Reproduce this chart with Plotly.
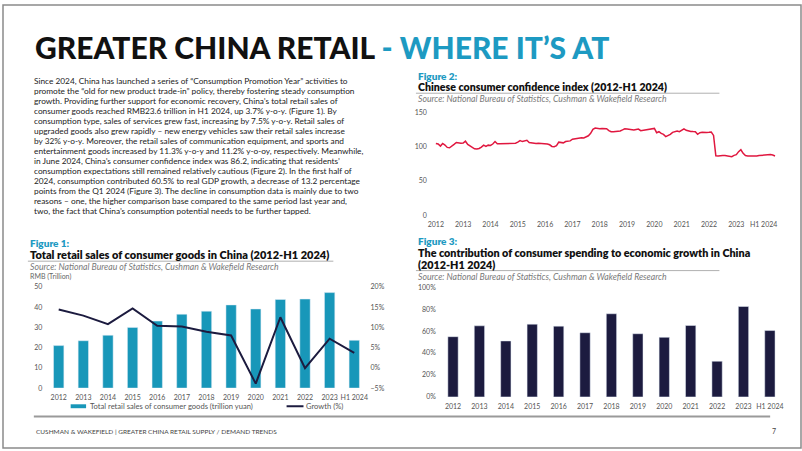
import plotly.graph_objects as go

W, H = 802, 451
def fx(p): return p / W
def fy(p): return 1 - p / H

# ---------------- data ----------------
years = ['2012', '2013', '2014', '2015', '2016', '2017', '2018', '2019',
         '2020', '2021', '2022', '2023', 'H1 2024']
retail_sales = [21.0, 23.4, 26.1, 30.0, 33.1, 36.5, 38.0, 41.1, 39.1, 43.8, 44.0, 47.2, 23.6]
retail_growth = [14.4, 12.9, 10.8, 14.7, 10.4, 10.2, 8.9, 8.0, -3.9, 12.5, -0.1, 7.2, 3.7]
consumption_contribution = [54.9, 64.8, 51.0, 66.3, 64.5, 58.5, 75.8, 57.6, 54.3, 65.1, 32.5, 82.4, 60.5]

# monthly consumer confidence index, Jan 2012 - Jun 2024
cci_2012 = [104.3, 103.5, 100.5, 104.3, 102.0, 98.6, 98.1, 100.0, 103.0, 105.7, 104.8, 104.5]
cci_2013 = [104.8, 107.6, 103.0, 101.0, 98.0, 96.5, 96.2, 97.0, 99.0, 101.9, 100.0, 101.9]
cci_2014 = [101.4, 103.5, 107.1, 104.0, 103.8, 103.8, 104.3, 103.8, 104.0, 104.8, 104.5, 104.8]
cci_2015 = [106.2, 108.6, 107.1, 107.5, 109.0, 105.7, 105.0, 104.8, 104.3, 104.5, 104.3, 104.3]
cci_2016 = [104.3, 103.5, 102.4, 100.0, 99.5, 101.0, 106.2, 105.5, 105.2, 107.1, 107.5, 108.1]
cci_2017 = [110.5, 111.0, 111.4, 112.9, 112.8, 112.4, 113.8, 115.5, 119.0, 124.8, 126.7, 125.9]
cci_2018 = [125.7, 126.2, 126.0, 125.7, 123.0, 121.4, 121.2, 121.4, 121.6, 122.4, 124.0, 125.7]
cci_2019 = [125.2, 124.8, 124.2, 123.8, 124.5, 125.2, 122.9, 123.5, 123.8, 124.2, 124.8, 125.5]
cci_2020 = [126.2, 120.0, 121.4, 119.0, 117.6, 114.3, 115.5, 117.5, 120.5, 121.5, 122.4, 121.4]
cci_2021 = [123.0, 125.7, 123.5, 122.4, 121.9, 121.6, 121.4, 117.6, 120.0, 120.5, 120.0, 120.3]
cci_2022 = [120.5, 121.0, 116.0, 86.5, 86.2, 87.1, 87.0, 86.7, 86.3, 86.2, 85.2, 87.0]
cci_2023 = [88.0, 92.4, 95.2, 90.0, 86.7, 86.2, 86.0, 85.7, 86.0, 86.2, 86.7, 87.1]
cci_2024 = [87.6, 88.0, 88.6, 88.1, 87.5, 86.2]
cci = (cci_2012 + cci_2013 + cci_2014 + cci_2015 + cci_2016 + cci_2017 + cci_2018 +
       cci_2019 + cci_2020 + cci_2021 + cci_2022 + cci_2023 + cci_2024)
cci_month_index = list(range(len(cci)))
cci_tick_index = [12 * k for k in range(len(years))]

legend_names = ['Total retail sales of consumer goods (trillion yuan)', 'Growth (%)']

paragraph = [
    "Since 2024, China has launched a series of “Consumption Promotion Year” activities to",
    "promote the “old for new product trade-in” policy, thereby fostering steady consumption",
    "growth. Providing further support for economic recovery, China’s total retail sales of",
    "consumer goods reached RMB23.6 trillion in H1 2024, up 3.7% y-o-y. (Figure 1). By",
    "consumption type, sales of services grew fast, increasing by 7.5% y-o-y. Retail sales of",
    "upgraded goods also grew rapidly – new energy vehicles saw their retail sales increase",
    "by 32% y-o-y. Moreover, the retail sales of communication equipment, and sports and",
    "entertainment goods increased by 11.3% y-o-y and 11.2% y-o-oy, respectively. Meanwhile,",
    "in June 2024, China’s consumer confidence index was 86.2, indicating that residents’",
    "consumption expectations still remained relatively cautious (Figure 2). In the first half of",
    "2024, consumption contributed 60.5% to real GDP growth, a decrease of 13.2 percentage",
    "points from the Q1 2024 (Figure 3). The decline in consumption data is mainly due to two",
    "reasons – one, the higher comparison base compared to the same period last year and,",
    "two, the fact that China’s consumption potential needs to be further tapped.",
]

# ---------------- style ----------------
TEAL = '#1897b9'
TEAL_TXT = '#1d9ac2'
NAVY = '#1c1b3f'
RED = '#e0173f'
FONT = 'Lato'
TICK = dict(family=FONT, size=7, color='#555555')

fig = go.Figure()

fig.add_trace(go.Bar(x=years, y=retail_sales, xaxis='x', yaxis='y', marker_color=TEAL,
                     width=0.42, name=legend_names[0], showlegend=False))
fig.add_trace(go.Scatter(x=years, y=retail_growth, xaxis='x', yaxis='y2', mode='lines',
                         line=dict(color=NAVY, width=2), name=legend_names[1], showlegend=False))
fig.add_trace(go.Scatter(x=cci_month_index, y=cci, xaxis='x2', yaxis='y3', mode='lines',
                         line=dict(color=RED, width=1.5), showlegend=False))
fig.add_trace(go.Bar(x=years, y=consumption_contribution, xaxis='x3', yaxis='y4',
                     marker_color=NAVY, width=0.39, showlegend=False))

ax_common = dict(showgrid=False, zeroline=False, showline=False, ticks='', tickfont=TICK, fixedrange=True)
xax = dict(ax_common, ticklabelstandoff=4)
yax = dict(ax_common, ticklabelstandoff=3)

fig.update_layout(
    width=W, height=H, margin=dict(l=0, r=0, t=0, b=0),
    paper_bgcolor='white', plot_bgcolor='rgba(0,0,0,0)',
    font=dict(family=FONT),
    showlegend=False,
    xaxis=dict(domain=[fx(43.6), fx(365.4)], anchor='y', type='category', **xax),
    yaxis=dict(domain=[fy(390), fy(287)], anchor='x', range=[0, 50], dtick=10, **yax),
    yaxis2=dict(overlaying='y', side='right', anchor='x', range=[-5, 20], dtick=5,
                ticksuffix='%', **yax),
    xaxis2=dict(domain=[fx(430), fx(780)], anchor='y3', range=[-2.2, 150.8],
                tickvals=cci_tick_index, ticktext=years, **xax),
    yaxis3=dict(domain=[fy(214), fy(109)], anchor='x2', range=[0, 150], dtick=50, **yax),
    xaxis3=dict(domain=[fx(439), fx(784)], anchor='y4', type='category', **xax),
    yaxis4=dict(domain=[fy(399), fy(287.3)], anchor='x3', range=[0, 100], dtick=20,
                ticksuffix='%', **yax),
)

ann = []
def text(x, y, s, size, color='#222222', weight='normal', style='normal', anchor='left'):
    ann.append(dict(x=fx(x), y=fy(y), xref='paper', yref='paper', text=s, showarrow=False,
                    xanchor=anchor, yanchor='middle',
                    font=dict(family=FONT, size=size, color=color, weight=weight, style=style)))

# title
text(30, 43, "GREATER CHINA RETAIL <span style='color:%s'>- WHERE IT’S AT</span>" % TEAL_TXT,
     30, color='#111111', weight=900)

# paragraph
for i, line in enumerate(paragraph):
    text(29, 77.5 + i * 10.15, line, 8.3, color='#222222')

SRC = 8.7
# Figure 1 header
text(25, 242, "Figure 1:", 10, color=TEAL_TXT, weight=800)
text(25, 253.5, "Total retail sales of consumer goods in China (2012-H1 2024)", 11, color='#111111', weight=800)
text(25, 266, "Source: National Bureau of Statistics, Cushman & Wakefield Research", SRC, color='#7a7a7a', style='italic')
text(25, 276.5, "RMB (Trillion)", 7, color='#666666')

# Figure 1 legend (drawn manually)
text(85, 408.5, legend_names[0], 7.6, color='#555555')
text(303, 408.5, legend_names[1], 7.6, color='#555555')

# Figure 2 header
text(415, 72, "Figure 2:", 10, color=TEAL_TXT, weight=800)
text(415, 83, "Chinese consumer confidence index (2012-H1 2024)", 10.6, color='#111111', weight=800)
text(415, 95.5, "Source: National Bureau of Statistics, Cushman & Wakefield Research", SRC, color='#7a7a7a', style='italic')

# Figure 3 header
text(415, 240.4, "Figure 3:", 10, color=TEAL_TXT, weight=800)
text(415, 252.2, "The contribution of consumer spending to economic growth in China", 10.8, color='#111111', weight=800)
text(415, 264.1, "(2012-H1 2024)", 10.8, color='#111111', weight=800)
text(415, 276, "Source: National Bureau of Statistics, Cushman & Wakefield Research", SRC, color='#7a7a7a', style='italic')

# footer
text(31, 434, "CUSHMAN & WAKEFIELD | GREATER CHINA RETAIL SUPPLY / DEMAND TRENDS", 6.5, color='#444444')
text(775, 434, "7", 7, color='#444444', anchor='center')

fig.update_layout(annotations=ann)

shapes = []
def hline(x0, x1, y, color='#b0b0b0', width=1):
    shapes.append(dict(type='line', xref='paper', yref='paper', x0=fx(x0), x1=fx(x1),
                       y0=fy(y), y1=fy(y), line=dict(color=color, width=width)))
hline(25, 332, 260.8)
hline(415, 720, 89.8)
hline(415, 720, 270.4)
hline(31, 771, 419, color='#9a9a9a', width=2)
# legend swatches
shapes.append(dict(type='rect', xref='paper', yref='paper', x0=fx(68), x1=fx(83.5),
                   y0=fy(410.5), y1=fy(406.5), line=dict(width=0), fillcolor=TEAL))
hline(285, 302, 408.5, color=NAVY, width=2)
shapes.append(dict(type='rect', xref='paper', yref='paper', x0=0, x1=1, y0=0, y1=1,
                   line=dict(color='#8a8a8a', width=1.5), fillcolor='rgba(0,0,0,0)', layer='below'))
fig.update_layout(shapes=shapes)

fig.write_html("out.html")
